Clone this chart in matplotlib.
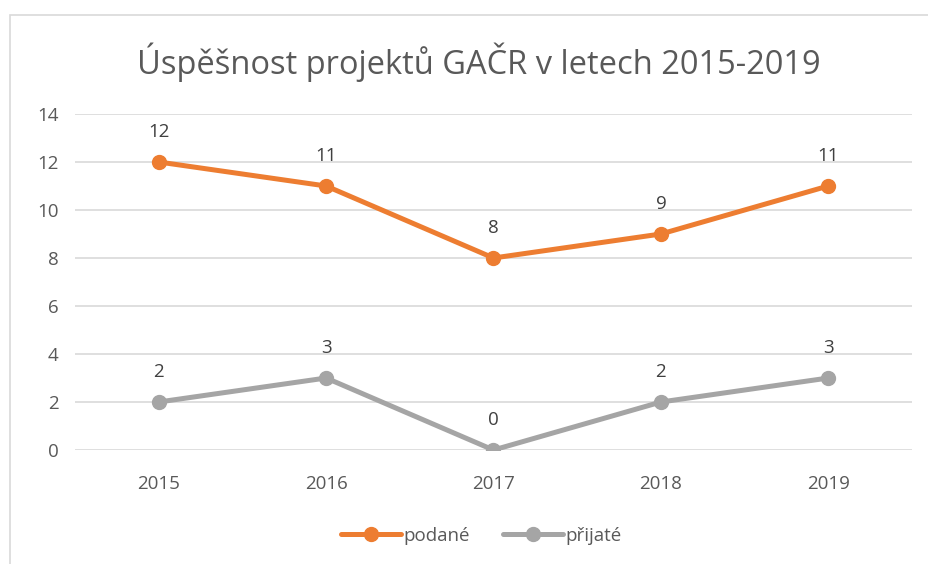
import matplotlib.pyplot as plt
from matplotlib.patches import Rectangle

years = ["2015", "2016", "2017", "2018", "2019"]
podane = [12, 11, 8, 9, 11]
prijate = [2, 3, 0, 2, 3]

ORANGE = "#ED7D31"
GRAY = "#A5A5A5"
TEXT = "#595959"


def main():
    plt.rcParams["font.family"] = ["Open Sans", "DejaVu Sans"]

    fig = plt.figure(figsize=(9.29, 5.64), dpi=100)
    ax = fig.add_axes([0.0807, 0.2021, 0.901, 0.5958])

    # chart border (cropped at right and bottom)
    fig.patches.append(Rectangle((10 / 929, -0.1), 1.2, 1.1 - 15 / 564,
                                 transform=fig.transFigure, fill=False,
                                 edgecolor="#D9D9D9", linewidth=1.2))

    x = range(len(years))
    ax.plot(x, podane, "o-", color=ORANGE, linewidth=3.6, markersize=10,
            label="podané", solid_capstyle="round", zorder=3)
    ax.plot(x, prijate, "o-", color=GRAY, linewidth=3.6, markersize=10,
            label="přijaté", solid_capstyle="round", zorder=3)

    for series in (podane, prijate):
        for xi, v in zip(x, series):
            ax.annotate(str(v), (xi, v), xytext=(0, 15), textcoords="offset points",
                        ha="center", va="bottom", fontsize=13.5, color="#404040")

    ax.set_xlim(-0.5, 4.5)
    ax.set_ylim(0, 14)
    ax.set_yticks(range(0, 15, 2))
    ax.set_xticks(list(x))
    ax.set_xticklabels(years)
    ax.tick_params(length=0, labelsize=13.5, labelcolor=TEXT, pad=12)
    ax.tick_params(axis="x", pad=18)
    ax.grid(True, axis="y", color="#D9D9D9", linewidth=1.2)
    ax.set_axisbelow(True)
    for s in ax.spines.values():
        s.set_visible(False)

    fig.text(0.515, 0.89, "Úspěšnost projektů GAČR v letech 2015-2019",
             ha="center", va="center", fontsize=23.5, color=TEXT)

    fig.legend(loc="center", bbox_to_anchor=(0.518, 0.05), ncol=2, frameon=False,
               fontsize=13.5, labelcolor=TEXT, handlelength=3.2,
               columnspacing=1.8, handletextpad=0.1)

    fig.savefig("out.png", dpi=100)


if __name__ == "__main__":
    main()
